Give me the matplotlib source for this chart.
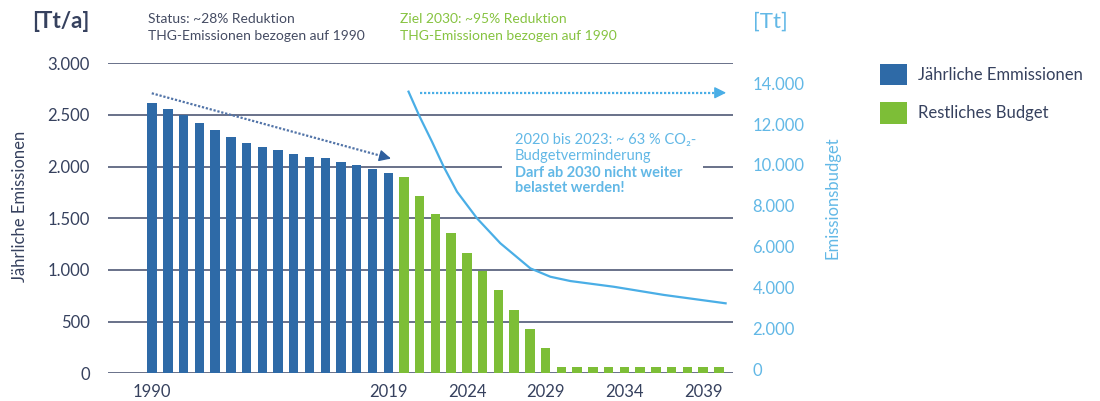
import numpy as np
import matplotlib
matplotlib.use("Agg")
import matplotlib.pyplot as plt
from matplotlib.patches import Patch, Rectangle

plt.rcParams['font.family'] = ['Lato', 'DejaVu Sans']

# Annual emissions [Tt/a]: 1990 plus 2005-2019 measured, 2020-2040 remaining budget path
hist_years = [1990, 2005, 2006, 2007, 2008, 2009, 2010, 2011, 2012, 2013,
              2014, 2015, 2016, 2017, 2018, 2019]
hist_values = [2615, 2557, 2496, 2424, 2359, 2286, 2232, 2194, 2159, 2127,
               2089, 2082, 2047, 2012, 1977, 1935]
budget_years = list(range(2020, 2041))
budget_values = [1898, 1719, 1539, 1355, 1167, 993, 806, 616, 429, 248,
                 62, 62, 62, 62, 62, 62, 62, 62, 62, 62, 62]

# Remaining emission budget [Tt]
line_years = [2020.29, 2020.97, 2021.78, 2022.52, 2023.37, 2024.64, 2026.12,
              2028.03, 2029.30, 2030.57, 2033.33, 2036.51, 2040.43]
line_values = [13590, 12410, 11140, 9920, 8690, 7390, 6170,
               4940, 4530, 4320, 4040, 3640, 3230]

xtick_years = [1990, 2019, 2024, 2029, 2034, 2039]
left_ticks = [0, 500, 1000, 1500, 2000, 2500, 3000]
right_ticks = [0, 2000, 4000, 6000, 8000, 10000, 12000, 14000]

BLUE = "#2e6aa7"
GREEN = "#7dbe37"
LIGHT = "#4aaee6"
LIGHT_TXT = "#62b8e6"
NAVY = "#36415e"
GRID = "#5d6680"

W, H = 1100, 401


def fx(px):
    return px / W


def fy(py):
    return 1 - py / H


def fmt(v):
    return f"{v:,}".replace(",", ".")


all_years = hist_years + budget_years
pos = np.arange(len(all_years))
pos_2019 = hist_years.index(2019)


def year_pos(y):
    # positions after 2019 advance one slot per year
    return pos_2019 + (np.asarray(y) - 2019)


fig = plt.figure(figsize=(11, 4.01), dpi=100)
ax = fig.add_axes([fx(108), fy(373.3), fx(733 - 108), (373.3 - 63.3) / H])

ax.bar(pos[:len(hist_years)], hist_values, width=0.6, color=BLUE, zorder=2)
ax.bar(pos[len(hist_years):], budget_values, width=0.6, color=GREEN, zorder=2)

ax.set_xlim(-2.8, 36.9)
ax.set_ylim(0, 3000)
ax.set_yticks(left_ticks)
ax.set_yticklabels([fmt(v) for v in left_ticks])
ax.yaxis.grid(True, color=GRID, lw=1.3)
ax.set_axisbelow(True)
for s in ax.spines.values():
    s.set_visible(False)
ax.set_xticks([all_years.index(y) for y in xtick_years])
ax.set_xticklabels([str(y) for y in xtick_years])
ax.tick_params(axis='y', length=0, pad=13, labelsize=12, labelcolor=NAVY)
ax.tick_params(axis='x', length=0, pad=8, labelsize=12, labelcolor=NAVY)

# white panel behind the budget note
ax.add_patch(Rectangle((22.25, 1629), 12.72, 774, facecolor="white",
                       edgecolor="none", zorder=1))

# trend arrows
ax.plot([-0.02, 15.1], [2710, 2081], ls=(0, (1, 0.8)), lw=1.6, color="#5274a8", zorder=3)
ax.annotate("", xy=(15.34, 2071), xytext=(14.6, 2101),
            arrowprops=dict(arrowstyle="-|>,head_length=0.7,head_width=0.35",
                            color="#2e5f9e", lw=1), zorder=3)
ax.plot([16.99, 36.2], [2715, 2715], ls=(0, (1, 0.8)), lw=1.6, color=LIGHT, zorder=3)
ax.annotate("", xy=(36.64, 2715), xytext=(35.9, 2715),
            arrowprops=dict(arrowstyle="-|>,head_length=0.7,head_width=0.35",
                            color=LIGHT, lw=1), zorder=3)

ax2 = ax.twinx()
ax2.plot(year_pos(line_years), line_values, color=LIGHT, lw=1.6)
ax2.set_ylim(-196, 14978)
ax2.set_yticks(right_ticks)
ax2.set_yticklabels([fmt(v) for v in right_ticks])
ax2.tick_params(axis='y', length=0, pad=14, labelsize=12, labelcolor=LIGHT_TXT)
for s in ax2.spines.values():
    s.set_visible(False)

# axis titles and units
fig.text(fx(20), fy(206), "Jährliche Emissionen", rotation=90, ha='center', va='center',
         fontsize=12, color=NAVY)
fig.text(fx(833), fy(198), "Emissionsbudget", rotation=90, ha='center', va='center',
         fontsize=12, color=LIGHT_TXT)
fig.text(fx(90), fy(22), "[Tt/a]", ha='right', va='center', fontsize=16,
         fontweight='bold', color=NAVY)
fig.text(fx(753), fy(22), "[Tt]", ha='left', va='center', fontsize=16,
         color=LIGHT_TXT)

# header notes
fig.text(fx(148), fy(19), "Status: ~28% Reduktion", ha='left', va='center',
         fontsize=10, color="#454c63")
fig.text(fx(148), fy(36), "THG-Emissionen bezogen auf 1990", ha='left', va='center',
         fontsize=10, color="#454c63")
fig.text(fx(400), fy(19), "Ziel 2030: ~95% Reduktion", ha='left', va='center',
         fontsize=10, color="#86c340")
fig.text(fx(400), fy(36), "THG-Emissionen bezogen auf 1990", ha='left', va='center',
         fontsize=10, color="#86c340")

# budget note
fig.text(fx(515), fy(140), "2020 bis 2023: ~ 63 % CO₂-", ha='left', va='center',
         fontsize=10.5, color=LIGHT_TXT)
fig.text(fx(515), fy(156), "Budgetverminderung", ha='left', va='center',
         fontsize=10.5, color=LIGHT_TXT)
fig.text(fx(515), fy(172.7), "Darf ab 2030 nicht weiter", ha='left', va='center',
         fontsize=10.5, fontweight='bold', color=LIGHT_TXT)
fig.text(fx(515), fy(188.3), "belastet werden!", ha='left', va='center',
         fontsize=10.5, fontweight='bold', color=LIGHT_TXT)

handles = [Patch(facecolor=BLUE, label="Jährliche Emmissionen"),
           Patch(facecolor=GREEN, label="Restliches Budget")]
fig.legend(handles=handles, loc='upper left', bbox_to_anchor=(fx(880), fy(64)),
           frameon=False, fontsize=12, handlelength=1.6, handleheight=1.6,
           handletextpad=0.65, labelspacing=1.0, borderpad=0, borderaxespad=0,
           labelcolor=NAVY)

fig.savefig("out.png", dpi=100)
